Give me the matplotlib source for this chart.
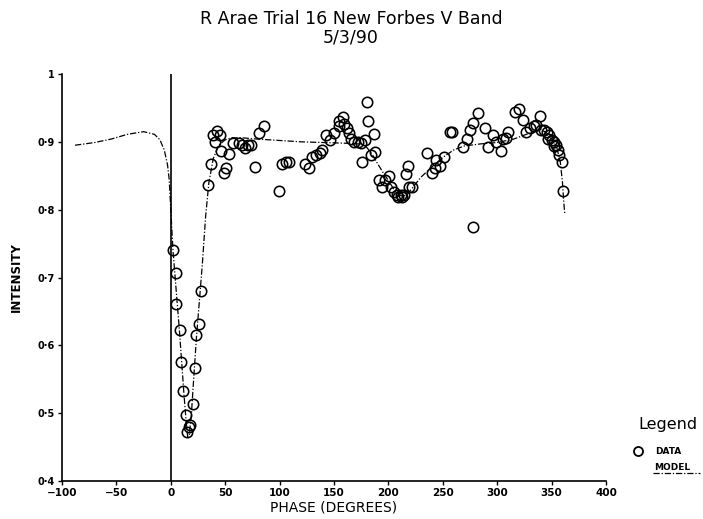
import matplotlib
matplotlib.use("Agg")
import matplotlib.pyplot as plt
from matplotlib.lines import Line2D

# ---- data ----
data_phase = [2.1, 4.6, 5.2, 8.5, 9.8, 11.6, 13.7, 15.0, 16.6, 17.8, 20.1, 21.9, 23.4, 25.8, 28.0,
              34.4, 36.5, 39.2, 42.8, 45.6, 41.0, 46.5, 53.1, 50.8, 48.6, 57.2, 62.3, 65.4, 68.4,
              71.4, 73.6, 81.4, 86.0, 77.5, 99.4, 101.8, 105.7, 108.8, 123.1, 127.0, 130.1, 133.7,
              137.4, 139.2, 142.8, 146.5, 150.4, 154.3, 158.0, 159.5, 155.0, 161.6, 163.4, 165.6,
              168.6, 171.6, 174.8, 178.7, 179.9, 181.7, 186.9, 175.7, 183.9, 187.8,
              191.4, 194.4, 196.9, 200.5, 202.1, 205.1, 208.1, 211.2, 214.2, 212.4, 209.2, 218.8,
              221.8, 218.1, 215.8,
              235.5, 240.0, 243.7, 247.7, 250.7, 243.1, 256.8, 258.9, 268.9, 271.9, 275.0, 278.0,
              282.0, 288.7, 277.4, 291.7, 296.3, 299.3, 303.8, 305.4, 309.9, 308.4, 316.0, 320.0,
              323.6, 326.6, 329.7, 333.6, 335.7, 339.7, 340.3, 343.4, 345.8, 347.9, 346.4, 350.0,
              352.5, 353.9, 351.9, 355.5, 357.1, 359.2, 360.1]
data_intensity = [0.740, 0.706, 0.661, 0.623, 0.576, 0.532, 0.497, 0.472, 0.479, 0.483, 0.513, 0.566,
                  0.615, 0.631, 0.680,
                  0.836, 0.867, 0.910, 0.916, 0.910, 0.900, 0.887, 0.882, 0.862, 0.854, 0.898, 0.898,
                  0.895, 0.891, 0.896, 0.896, 0.913, 0.923, 0.863, 0.828, 0.868, 0.871, 0.871, 0.868,
                  0.862, 0.878, 0.881, 0.884, 0.888, 0.910, 0.903, 0.913, 0.923, 0.937, 0.927, 0.930,
                  0.921, 0.913, 0.904, 0.900, 0.900, 0.898, 0.903, 0.959, 0.930, 0.912, 0.871, 0.881,
                  0.885,
                  0.844, 0.834, 0.844, 0.849, 0.834, 0.826, 0.822, 0.822, 0.822, 0.818, 0.818, 0.834,
                  0.834, 0.864, 0.852,
                  0.884, 0.854, 0.873, 0.864, 0.877, 0.861, 0.915, 0.915, 0.893, 0.904, 0.918, 0.928,
                  0.943, 0.920, 0.775, 0.893, 0.910, 0.900, 0.887, 0.904, 0.915, 0.905, 0.944, 0.949,
                  0.932, 0.915, 0.920, 0.923, 0.925, 0.938, 0.918, 0.917, 0.915, 0.910, 0.904, 0.902,
                  0.900, 0.895, 0.894, 0.888, 0.880, 0.871, 0.828]

model_phase = [-88, -70, -55, -40, -25, -15, -10, -6, -3, -1.5, 0, 2, 5, 8, 10, 12, 14, 15.5, 17, 19,
               21, 23.5, 26, 29, 32, 35, 39, 44, 50, 56, 65, 80, 100, 120, 140, 160, 170, 175, 180,
               185, 190, 195, 200, 205, 210, 213, 217, 222, 230, 240, 250, 260, 270, 285, 300, 315,
               325, 335, 340, 345, 350, 355, 358, 360, 361, 362]
model_intensity = [0.895, 0.899, 0.904, 0.911, 0.915, 0.911, 0.903, 0.888, 0.866, 0.845, 0.800, 0.740,
                   0.680, 0.620, 0.575, 0.530, 0.490, 0.465, 0.468, 0.500, 0.550, 0.610, 0.660, 0.720,
                   0.790, 0.840, 0.875, 0.895, 0.903, 0.906, 0.906, 0.904, 0.902, 0.900, 0.899, 0.898,
                   0.897, 0.897, 0.892, 0.882, 0.868, 0.855, 0.843, 0.830, 0.822, 0.820, 0.822, 0.832,
                   0.848, 0.863, 0.877, 0.888, 0.894, 0.897, 0.899, 0.904, 0.910, 0.916, 0.918, 0.914,
                   0.905, 0.890, 0.870, 0.840, 0.815, 0.795]

x_ticks = [-100, -50, 0, 50, 100, 150, 200, 250, 300, 350, 400]
y_ticks = [0.4, 0.5, 0.6, 0.7, 0.8, 0.9, 1.0]
y_tick_labels = ["0·4", "0·5", "0·6", "0·7", "0·8", "0·9", "1"]

title = "R Arae Trial 16 New Forbes V Band\n5/3/90"

# ---- figure ----
fig = plt.figure(figsize=(7.03, 5.19), dpi=100)
ax = fig.add_axes([62 / 703, 38 / 519, 544 / 703, 407 / 519])

dash = (0, (5, 1.5, 1, 1.5))
ax.plot(model_phase, model_intensity, color="black", lw=0.9, linestyle=dash, zorder=2)
ax.plot(data_phase, data_intensity, linestyle="none", marker="o", markersize=7.5,
        markerfacecolor="none", markeredgecolor="black", markeredgewidth=1.15, zorder=3)
ax.axvline(0, color="black", lw=1.2, zorder=1)

ax.set_xlim(-100, 400)
ax.set_ylim(0.4, 1.0)
ax.set_xticks(x_ticks)
ax.set_xticklabels([str(t).replace("-", "\u2212") for t in x_ticks], fontsize=7.5, fontweight="bold")
ax.set_yticks(y_ticks)
ax.set_yticklabels(y_tick_labels, fontsize=7, fontweight="bold")
ax.tick_params(direction="out", length=3, width=1, pad=2)
for s in ("top", "right"):
    ax.spines[s].set_visible(False)
for s in ("left", "bottom"):
    ax.spines[s].set_linewidth(1.2)

ax.set_xlabel("PHASE (DEGREES)", fontsize=10, labelpad=2)
ax.set_ylabel("INTENSITY", fontsize=8.5, fontweight="bold", labelpad=11)

fig.text(351 / 703, 1 - 10 / 519, title, ha="center", va="top", fontsize=12.5, linespacing=1.0)

# ---- legend (drawn manually in figure coordinates) ----
fig.text(668 / 703, 1 - 425 / 519, "Legend", ha="center", va="center", fontsize=11.5)
fig.add_artist(Line2D([638 / 703], [1 - 451 / 519], marker="o", markersize=6.5,
                      markerfacecolor="none", markeredgecolor="black", markeredgewidth=1.3,
                      linestyle="none", transform=fig.transFigure))
fig.text(655 / 703, 1 - 451 / 519, "DATA", ha="left", va="center", fontsize=6.5, fontweight="bold")
fig.text(654 / 703, 1 - 467 / 519, "MODEL", ha="left", va="center", fontsize=6.5, fontweight="bold")
fig.add_artist(Line2D([653 / 703, 700 / 703], [1 - 473 / 519, 1 - 473 / 519], color="black",
                      lw=0.9, linestyle=dash, transform=fig.transFigure))

fig.savefig("out.png", dpi=100)
